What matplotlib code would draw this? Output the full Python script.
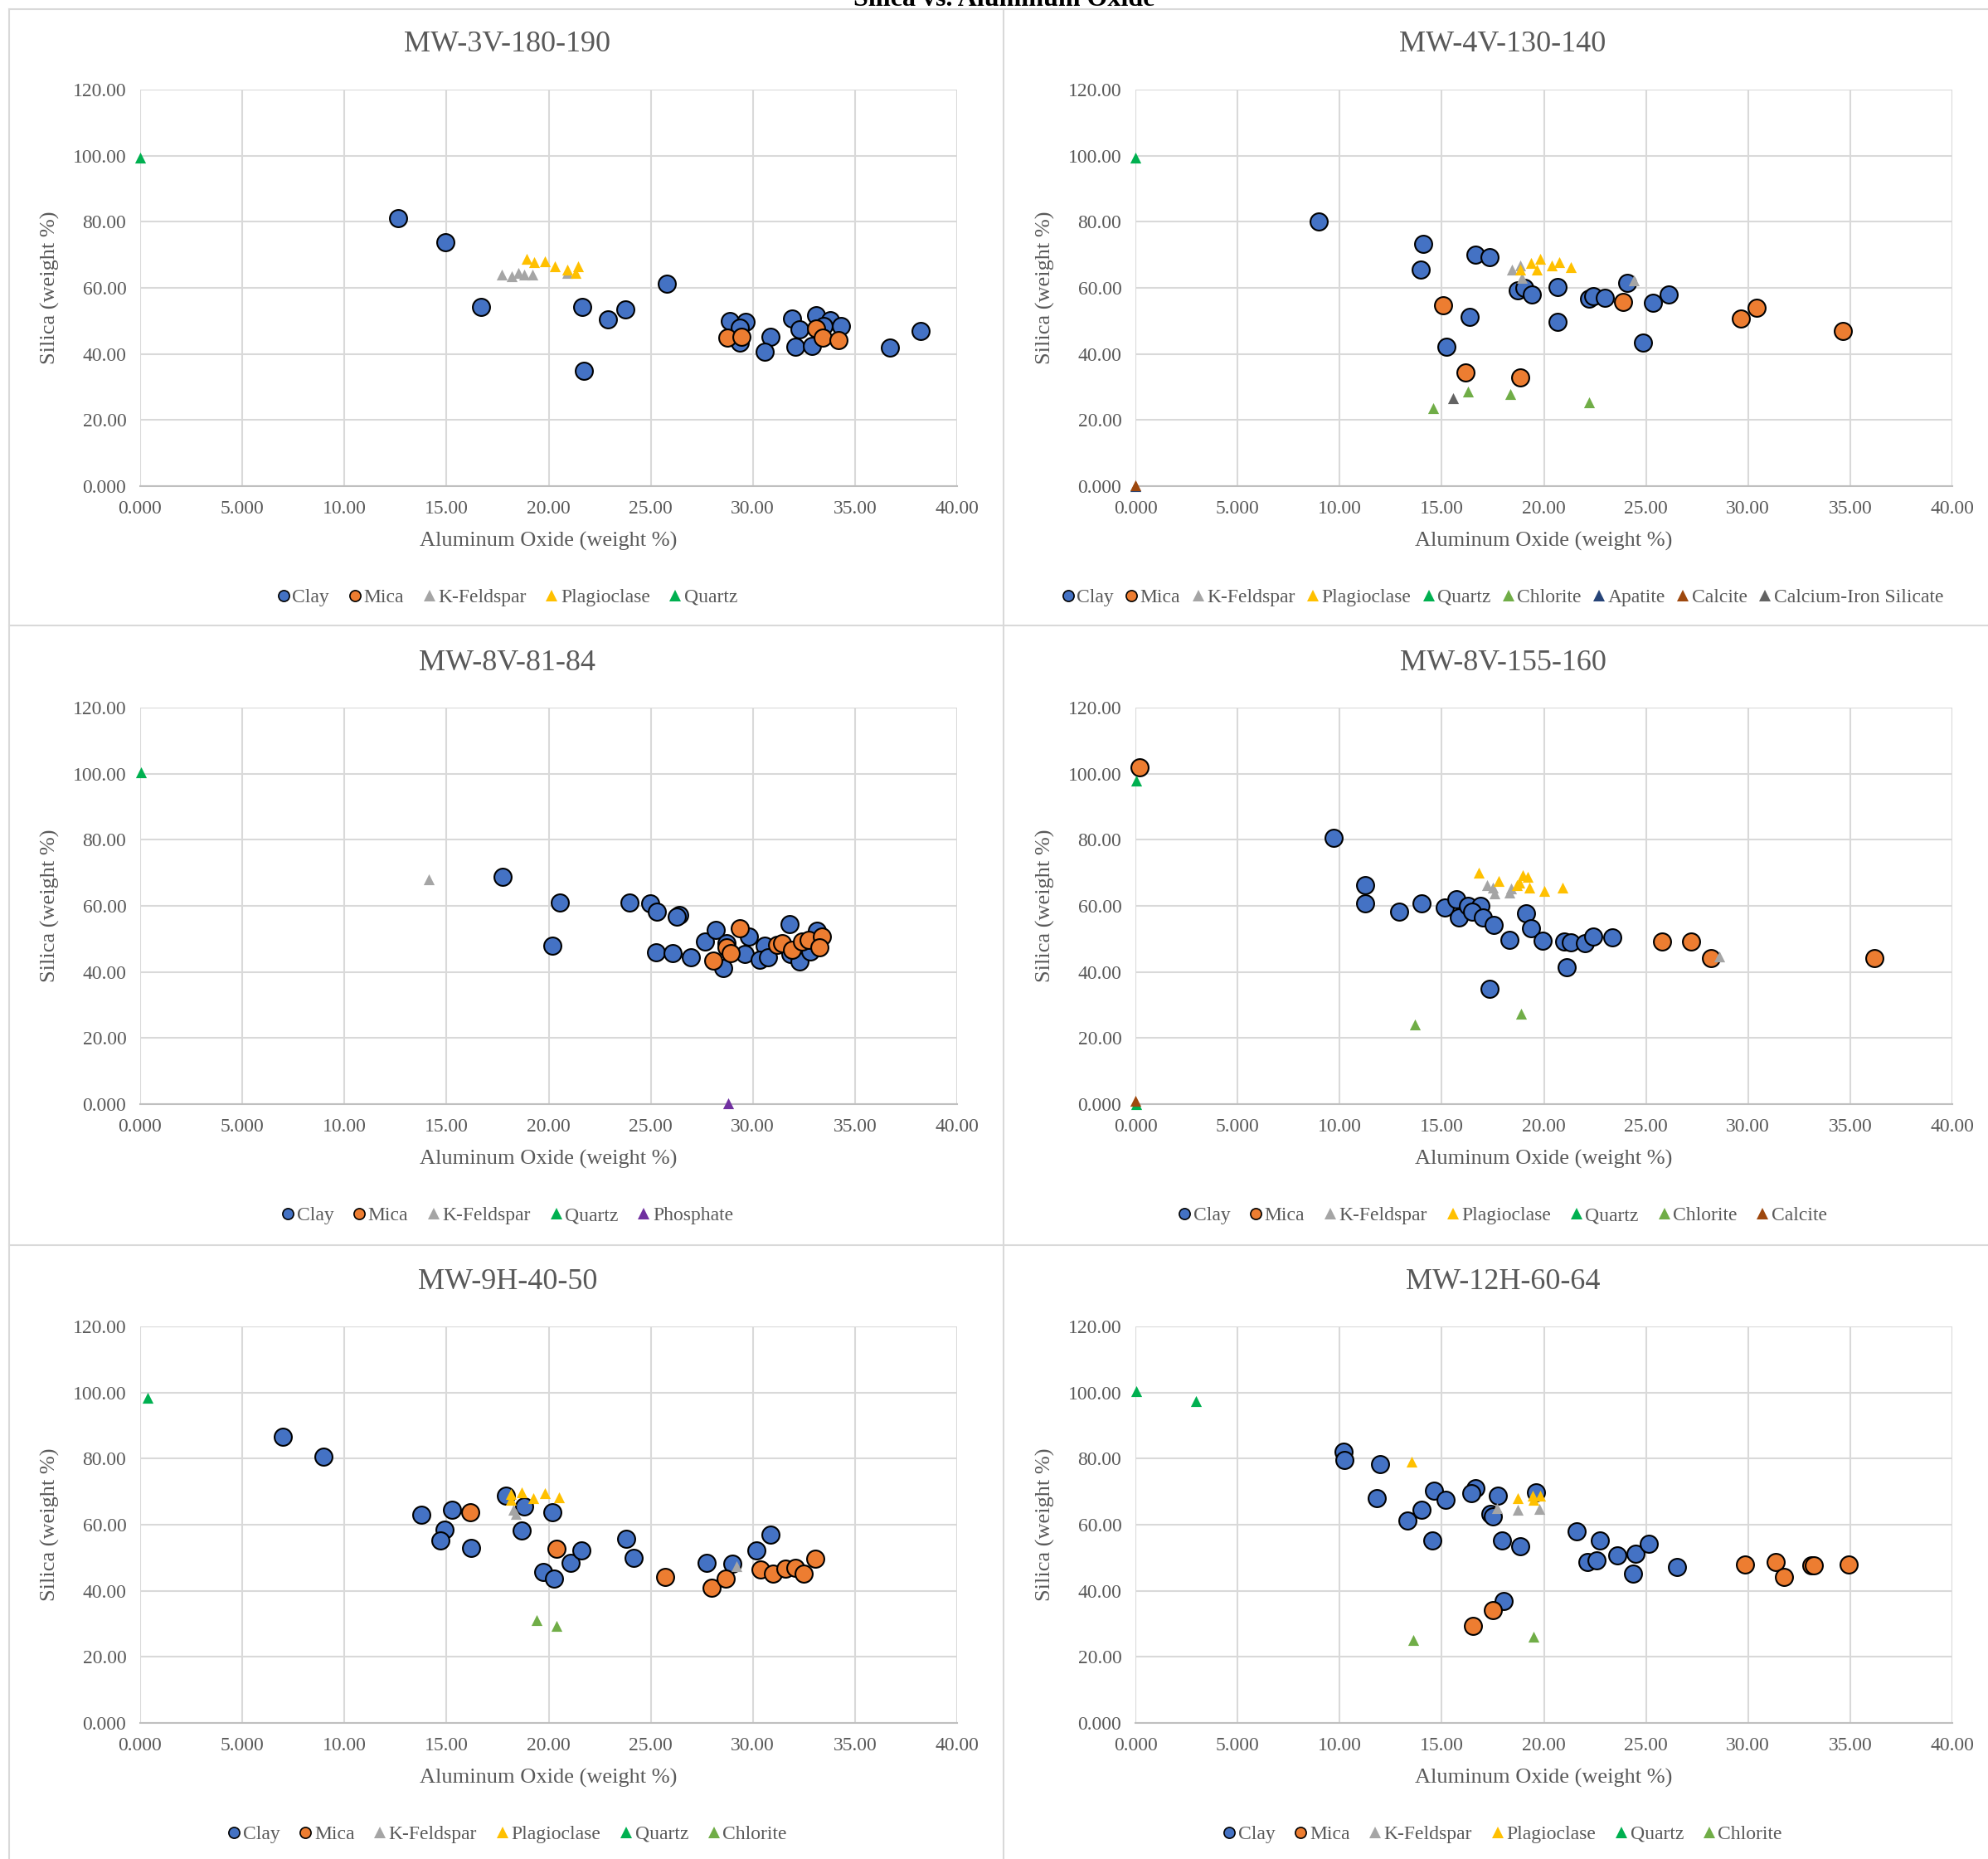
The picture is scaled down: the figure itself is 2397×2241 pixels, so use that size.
import matplotlib
matplotlib.use("Agg")
import matplotlib.pyplot as plt
from matplotlib.lines import Line2D

plt.rcParams['font.family'] = ['Liberation Serif', 'DejaVu Serif']

# ---- data: (aluminum oxide, silica) in weight % ----
# MW-3V-180-190
mw3v_clay_al = [12.63, 14.96, 16.7, 21.65, 21.74, 22.9, 23.76, 25.8, 28.88, 29.63, 29.36, 29.36,
                30.88, 30.56, 31.9, 32.3, 32.1, 32.9, 33.1, 33.77, 33.45, 34.3, 36.7, 38.2]
mw3v_clay_si = [81.0, 73.7, 54.2, 54.2, 34.9, 50.4, 53.5, 61.2, 49.95, 49.6, 47.9, 43.5,
                45.2, 40.7, 50.8, 47.4, 42.1, 42.5, 51.6, 50.2, 48.5, 48.5, 41.8, 46.9]
mw3v_mica_al = [28.75, 29.46, 33.08, 33.43, 34.2]
mw3v_mica_si = [44.9, 45.2, 47.7, 44.9, 44.1]
mw3v_kfs_al = [17.7, 18.2, 18.5, 18.8, 19.2, 20.9]
mw3v_kfs_si = [64.0, 63.4, 64.4, 64.0, 64.0, 64.5]
mw3v_plag_al = [18.94, 19.3, 19.8, 20.3, 20.9, 21.3, 21.46]
mw3v_plag_si = [68.8, 67.8, 68.0, 66.6, 65.6, 64.4, 66.6]
mw3v_qtz_al = [0.0]
mw3v_qtz_si = [99.5]

# MW-4V-130-140
mw4v_clay_al = [8.97, 14.09, 13.96, 16.63, 17.34, 16.35, 15.23, 18.74, 19.05, 19.4, 20.66, 20.66,
                22.2, 22.4, 23.0, 24.1, 24.85, 25.35, 26.1]
mw4v_clay_si = [80.1, 73.2, 65.6, 70.1, 69.3, 51.3, 42.2, 59.3, 60.0, 58.1, 60.2, 49.8,
                56.8, 57.4, 57.0, 61.6, 43.4, 55.5, 58.0]
mw4v_mica_al = [15.08, 16.17, 18.86, 23.86, 29.66, 30.4, 34.63]
mw4v_mica_si = [54.8, 34.5, 32.9, 55.8, 50.6, 53.9, 47.0]
mw4v_kfs_al = [18.43, 18.83, 18.93, 24.4]
mw4v_kfs_si = [65.6, 66.8, 63.0, 62.2]
mw4v_plag_al = [18.83, 19.36, 19.83, 19.67, 20.38, 20.76, 21.3]
mw4v_plag_si = [65.6, 67.6, 68.7, 65.6, 66.8, 67.8, 66.3]
mw4v_qtz_al = [0.0]
mw4v_qtz_si = [99.4]
mw4v_chl_al = [14.58, 16.3, 18.37, 22.2]
mw4v_chl_si = [23.6, 28.7, 27.8, 25.4]
mw4v_apa_al = [0.0]
mw4v_apa_si = [0.0]
mw4v_cal_al = [0.0]
mw4v_cal_si = [0.3]
mw4v_cfs_al = [15.54]
mw4v_cfs_si = [26.6]

# MW-8V-81-84
mw8a_clay_al = [17.73, 20.56, 20.2, 23.94, 24.97, 25.3, 26.4, 26.26, 25.27, 26.08, 26.96, 27.64,
                28.18, 28.55, 28.7, 29.8, 29.6, 30.56, 30.35, 30.76, 31.8, 31.84, 32.3, 32.8, 33.13]
mw8a_clay_si = [68.8, 61.1, 47.9, 61.1, 60.8, 58.2, 57.3, 56.8, 46.0, 45.8, 44.5, 49.1,
                52.6, 41.2, 48.7, 50.8, 45.5, 47.9, 43.7, 44.5, 54.4, 45.4, 43.3, 46.2, 52.5]
mw8a_mica_al = [29.38, 28.05, 28.7, 28.9, 31.17, 31.44, 31.9, 32.4, 32.72, 33.4, 33.27]
mw8a_mica_si = [53.1, 43.5, 47.5, 45.8, 48.3, 48.6, 46.6, 49.1, 49.6, 50.6, 47.5]
mw8a_kfs_al = [14.15]
mw8a_kfs_si = [68.1]
mw8a_qtz_al = [0.03]
mw8a_qtz_si = [100.3]
mw8a_pho_al = [28.8]
mw8a_pho_si = [0.2]

# MW-8V-155-160
mw8b_clay_al = [9.69, 11.24, 11.24, 12.9, 14.0, 15.15, 15.7, 15.85, 16.3, 16.9, 16.5, 17.0, 17.54,
                18.3, 19.14, 19.37, 19.95, 21.0, 21.3, 22.0, 22.4, 23.33, 21.1, 17.36]
mw8b_clay_si = [80.7, 66.2, 60.8, 58.3, 60.8, 59.4, 62.1, 56.4, 60.0, 60.0, 58.3, 56.4, 54.2,
                49.6, 57.7, 53.3, 49.4, 49.1, 48.9, 48.6, 50.8, 50.4, 41.4, 35.0]
mw8b_mica_al = [0.22, 25.8, 27.2, 28.2, 36.2]
mw8b_mica_si = [102.0, 49.1, 49.1, 44.2, 44.2]
mw8b_kfs_al = [17.2, 17.5, 17.6, 18.3, 18.4, 28.6]
mw8b_kfs_si = [66.3, 65.5, 63.8, 64.0, 65.2, 44.8]
mw8b_plag_al = [16.83, 17.8, 18.7, 18.96, 19.2, 19.3, 20.0, 20.9, 18.8]
mw8b_plag_si = [70.0, 67.5, 66.4, 69.2, 68.8, 65.6, 64.6, 65.6, 67.1]
mw8b_qtz_al = [0.03, 0.03]
mw8b_qtz_si = [97.9, 0.0]
mw8b_chl_al = [13.7, 18.9]
mw8b_chl_si = [24.2, 27.4]
mw8b_cal_al = [0.0]
mw8b_cal_si = [1.0]

# MW-9H-40-50
mw9h_clay_al = [7.0, 8.96, 13.78, 14.9, 14.7, 15.27, 16.2, 17.9, 18.8, 18.7, 20.2, 19.75, 20.25,
                21.06, 21.6, 23.8, 24.17, 27.75, 28.99, 30.17, 30.86]
mw9h_clay_si = [86.7, 80.7, 62.9, 58.4, 55.3, 64.4, 53.0, 68.9, 65.6, 58.2, 63.7, 45.6, 43.8,
                48.5, 52.1, 55.7, 50.0, 48.5, 48.2, 52.2, 56.9]
mw9h_mica_al = [16.17, 20.4, 25.7, 27.96, 28.65, 30.36, 30.98, 31.6, 32.1, 32.47, 33.06]
mw9h_mica_si = [63.8, 52.7, 44.2, 40.8, 43.8, 46.4, 45.2, 46.7, 47.0, 45.2, 49.7]
mw9h_kfs_al = [18.26, 18.4, 29.2]
mw9h_kfs_si = [64.4, 63.2, 47.4]
mw9h_plag_al = [18.16, 18.16, 18.7, 19.25, 19.8, 20.5]
mw9h_plag_si = [69.3, 67.5, 69.9, 68.1, 69.5, 68.3]
mw9h_qtz_al = [0.37]
mw9h_qtz_si = [98.4]
mw9h_chl_al = [19.4, 20.37]
mw9h_chl_si = [31.1, 29.3]

# MW-12H-60-64
mw12h_clay_al = [10.18, 10.24, 11.98, 11.82, 13.34, 13.99, 14.6, 14.55, 15.17, 16.63, 16.44, 17.75,
                 17.4, 17.5, 17.93, 18.03, 18.83, 19.6, 21.6, 22.15, 22.56, 22.74, 23.58, 24.48,
                 24.36, 25.13, 26.5]
mw12h_clay_si = [82.1, 79.5, 78.3, 68.1, 61.2, 64.4, 70.2, 55.2, 67.5, 71.1, 69.5, 68.7,
                 63.2, 62.6, 55.2, 37.0, 53.4, 69.9, 58.1, 48.6, 49.1, 55.2, 50.6, 51.2,
                 45.2, 54.2, 47.3]
mw12h_mica_al = [16.54, 17.5, 29.85, 31.34, 31.74, 33.1, 33.2, 34.94]
mw12h_mica_si = [29.3, 34.1, 48.0, 48.6, 44.2, 47.6, 47.6, 47.9]
mw12h_kfs_al = [17.69, 18.74, 19.76]
mw12h_kfs_si = [65.0, 64.4, 64.8]
mw12h_plag_al = [13.53, 18.74, 19.45, 19.5, 19.8]
mw12h_plag_si = [79.1, 68.1, 68.9, 67.5, 68.7]
mw12h_qtz_al = [0.06, 2.98]
mw12h_qtz_si = [100.5, 97.3]
mw12h_chl_al = [13.6, 19.5]
mw12h_chl_si = [25.0, 26.0]

x_ticks = [0, 5, 10, 15, 20, 25, 30, 35, 40]
x_tick_labels = ['0.000', '5.000', '10.00', '15.00', '20.00', '25.00', '30.00', '35.00', '40.00']
y_ticks = [0, 20, 40, 60, 80, 100, 120]
y_tick_labels = ['0.000', '20.00', '40.00', '60.00', '80.00', '100.00', '120.00']

# name: (color, marker)
styles = {
    'Clay': ('#4472C4', 'o'),
    'Mica': ('#ED7D31', 'o'),
    'K-Feldspar': ('#A5A5A5', '^'),
    'Plagioclase': ('#FFC000', '^'),
    'Quartz': ('#00B050', '^'),
    'Chlorite': ('#70AD47', '^'),
    'Apatite': ('#264478', '^'),
    'Calcite': ('#9E480E', '^'),
    'Calcium-Iron Silicate': ('#636363', '^'),
    'Phosphate': ('#7030A0', '^'),
}

panels = [
    ('MW-3V-180-190', [('Clay', mw3v_clay_al, mw3v_clay_si), ('Mica', mw3v_mica_al, mw3v_mica_si),
                       ('K-Feldspar', mw3v_kfs_al, mw3v_kfs_si), ('Plagioclase', mw3v_plag_al, mw3v_plag_si),
                       ('Quartz', mw3v_qtz_al, mw3v_qtz_si)]),
    ('MW-4V-130-140', [('Clay', mw4v_clay_al, mw4v_clay_si), ('Mica', mw4v_mica_al, mw4v_mica_si),
                       ('K-Feldspar', mw4v_kfs_al, mw4v_kfs_si), ('Plagioclase', mw4v_plag_al, mw4v_plag_si),
                       ('Quartz', mw4v_qtz_al, mw4v_qtz_si), ('Chlorite', mw4v_chl_al, mw4v_chl_si),
                       ('Apatite', mw4v_apa_al, mw4v_apa_si), ('Calcite', mw4v_cal_al, mw4v_cal_si),
                       ('Calcium-Iron Silicate', mw4v_cfs_al, mw4v_cfs_si)]),
    ('MW-8V-81-84', [('Clay', mw8a_clay_al, mw8a_clay_si), ('Mica', mw8a_mica_al, mw8a_mica_si),
                     ('K-Feldspar', mw8a_kfs_al, mw8a_kfs_si), ('Quartz', mw8a_qtz_al, mw8a_qtz_si),
                     ('Phosphate', mw8a_pho_al, mw8a_pho_si)]),
    ('MW-8V-155-160', [('Clay', mw8b_clay_al, mw8b_clay_si), ('Mica', mw8b_mica_al, mw8b_mica_si),
                       ('K-Feldspar', mw8b_kfs_al, mw8b_kfs_si), ('Plagioclase', mw8b_plag_al, mw8b_plag_si),
                       ('Quartz', mw8b_qtz_al, mw8b_qtz_si), ('Chlorite', mw8b_chl_al, mw8b_chl_si),
                       ('Calcite', mw8b_cal_al, mw8b_cal_si)]),
    ('MW-9H-40-50', [('Clay', mw9h_clay_al, mw9h_clay_si), ('Mica', mw9h_mica_al, mw9h_mica_si),
                     ('K-Feldspar', mw9h_kfs_al, mw9h_kfs_si), ('Plagioclase', mw9h_plag_al, mw9h_plag_si),
                     ('Quartz', mw9h_qtz_al, mw9h_qtz_si), ('Chlorite', mw9h_chl_al, mw9h_chl_si)]),
    ('MW-12H-60-64', [('Clay', mw12h_clay_al, mw12h_clay_si), ('Mica', mw12h_mica_al, mw12h_mica_si),
                      ('K-Feldspar', mw12h_kfs_al, mw12h_kfs_si), ('Plagioclase', mw12h_plag_al, mw12h_plag_si),
                      ('Quartz', mw12h_qtz_al, mw12h_qtz_si), ('Chlorite', mw12h_chl_al, mw12h_chl_si)]),
]

W, H = 2397, 2241
fig = plt.figure(figsize=(W / 100, H / 100), dpi=100)
fig.patch.set_facecolor('white')

grey_txt = '#595959'
grid_col = '#D9D9D9'

# panel frame lines (pixel coords)
def fig_line(x0, y0, x1, y1):
    fig.add_artist(Line2D([x0 / W, x1 / W], [1 - y0 / H, 1 - y1 / H], color=grid_col, lw=1.5,
                          transform=fig.transFigure))

fig_line(11, 11, W, 11)
fig_line(11, 754, W, 754)
fig_line(11, 1501, W, 1501)
fig_line(11, 11, 11, H)
fig_line(1210, 11, 1210, H)

# the overall title sits partly above the top edge, as in the original
fig.text(1211 / W, 1 - 7 / H, 'Silica vs. Aluminum Oxide', ha='center', va='baseline',
         fontsize=23, fontweight='bold', color='black')

ax_left = [169, 1369]
ax_w = 985
row_top = [108, 853, 1599]
ax_h = 478
panel_cx = [612, 1812]

for i, (title, series) in enumerate(panels):
    col, row = i % 2, i // 2
    l, t = ax_left[col], row_top[row]
    ax = fig.add_axes([l / W, 1 - (t + ax_h) / H, ax_w / W, ax_h / H])
    for name, xs, ys in series:
        c, m = styles[name]
        if m == 'o':
            ax.scatter(xs, ys, s=225, c=c, marker='o', edgecolors='black', linewidths=1.5,
                       zorder=3, clip_on=False)
        else:
            ax.scatter(xs, ys, s=90, c=c, marker='^', linewidths=0, zorder=3, clip_on=False)
    ax.set_xlim(0, 40)
    ax.set_ylim(0, 120)
    ax.set_xticks(x_ticks)
    ax.set_xticklabels(x_tick_labels)
    ax.set_yticks(y_ticks)
    ax.set_yticklabels(y_tick_labels)
    ax.tick_params(length=0, labelsize=17, labelcolor=grey_txt, pad=12)
    ax.grid(True, color=grid_col, lw=1.5, zorder=0)
    ax.set_axisbelow(True)
    for s in ['top', 'right', 'left']:
        ax.spines[s].set_visible(False)
    ax.spines['bottom'].set_color('#BFBFBF')
    ax.spines['bottom'].set_linewidth(1.5)
    ax.set_xlabel('Aluminum Oxide (weight %)', fontsize=19, color=grey_txt, va='center')
    ax.xaxis.set_label_coords(0.5, -66 / ax_h)
    ax.set_ylabel('Silica (weight %)', fontsize=19, color=grey_txt, va='center')
    ax.yaxis.set_label_coords(-109 / ax_w, 0.5)

    top_px = 11 + row * 745.5
    fig.text(panel_cx[col] / W, 1 - (top_px + 43) / H, title, ha='center', va='center',
             fontsize=26, color=grey_txt)

    handles = []
    for name, xs, ys in series:
        c, m = styles[name]
        if m == 'o':
            h = Line2D([], [], ls='none', marker='o', markersize=9.5, markerfacecolor=c,
                       markeredgecolor='black', markeredgewidth=1.2, label=name)
        else:
            h = Line2D([], [], ls='none', marker='^', markersize=10, markerfacecolor=c,
                       markeredgewidth=0, label=name)
        handles.append(h)
    # long legends get packed tighter
    colsp = 1.0 if len(handles) < 8 else 0.6
    fig.legend(handles=handles, loc='center', ncol=len(handles),
               bbox_to_anchor=(panel_cx[col] / W, 1 - (top_px + 709) / H),
               frameon=False, handlelength=0.6, handletextpad=0.15, columnspacing=colsp,
               borderaxespad=0, prop={'size': 17}, labelcolor=grey_txt)

fig.savefig('out.png', dpi=100, facecolor='white')
